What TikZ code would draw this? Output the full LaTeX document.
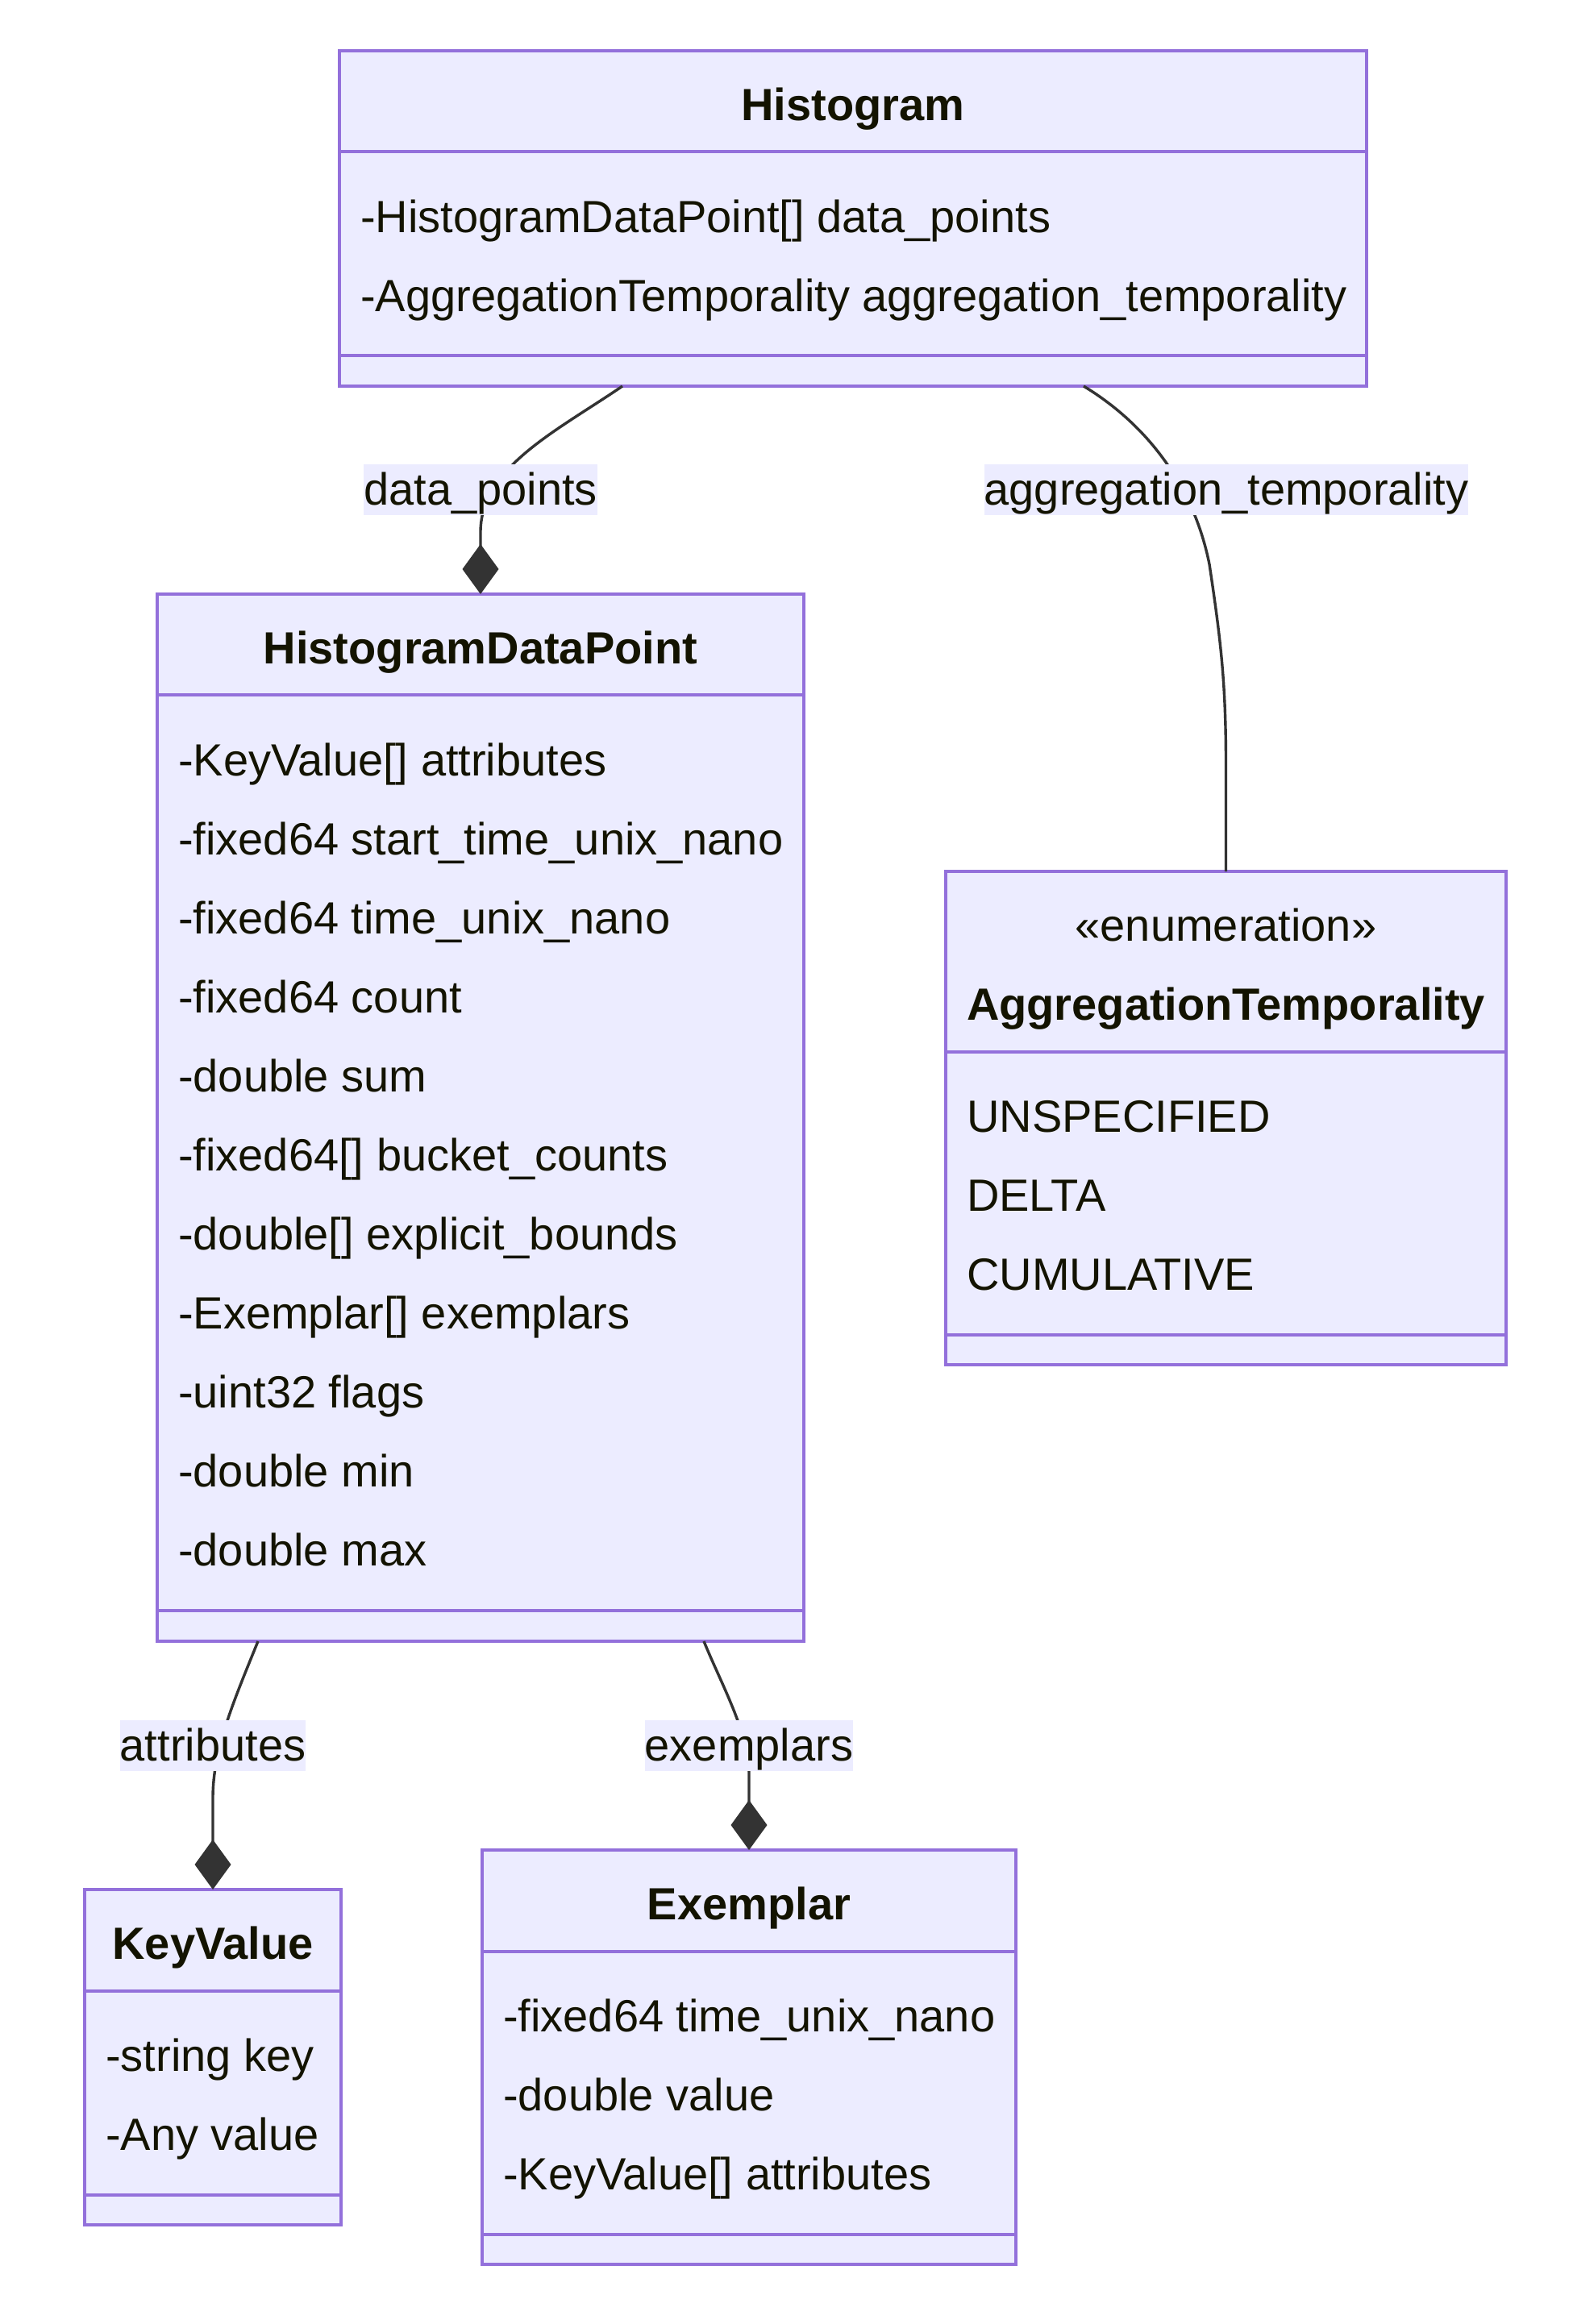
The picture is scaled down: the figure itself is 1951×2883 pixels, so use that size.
\documentclass[tikz,border=0pt]{standalone}
\usepackage{fontspec}
\setmainfont{Liberation Sans}
\usetikzlibrary{arrows.meta,calc}
\definecolor{boxfill}{HTML}{ECECFF}
\definecolor{boxline}{HTML}{9370DB}
\definecolor{txt}{HTML}{131300}
\definecolor{edgec}{HTML}{333333}
\definecolor{lblbg}{HTML}{ECECFF}
\newcommand{\dfont}{\fontsize{56pt}{66pt}\selectfont}
\begin{document}
\begin{tikzpicture}[x=1pt,y=-1pt,
  classbox/.style={draw=boxline, fill=boxfill, line width=3.4pt, inner sep=0pt, outer sep=0pt, anchor=north west},
  divider/.style={draw=boxline, line width=3.4pt},
  attr/.style={anchor=base west, inner sep=0pt, text=txt, font=\dfont},
  ctitle/.style={anchor=base, inner sep=0pt, text=txt, font=\dfont\bfseries},
  stereo/.style={anchor=base, inner sep=0pt, text=txt, font=\dfont},
  conn/.style={draw=edgec, line width=3.4pt},
  comp/.style={conn, -{Diamond[length=62pt,width=45pt,fill=edgec]}},
  elabel/.style={fill=lblbg, inner sep=0pt, text=txt, font=\dfont, text height=50.6pt, text depth=11.9pt}
]
\useasboundingbox (0,0) rectangle (1951,2883);
\fill[white] (0,0) rectangle (1951,2883);

% Histogram
\node[classbox, minimum width=1274pt, minimum height=416pt] (hist) at (421,63) {};
\draw[divider] (hist.west |- 0,188) -- (hist.east |- 0,188);
\draw[divider] (hist.west |- 0,441) -- (hist.east |- 0,441);
\node[ctitle] (histT) at (1058,149.5) {Histogram};
\node[attr] (histA1) at (447,288.5) {-HistogramDataPoint[] data\_points};
\node[attr] (histA2) at (447,386.5) {-AggregationTemporality aggregation\_temporality};

% HistogramDataPoint
\node[classbox, minimum width=802pt, minimum height=1299pt] (hdp) at (195,737) {};
\draw[divider] (hdp.west |- 0,862) -- (hdp.east |- 0,862);
\draw[divider] (hdp.west |- 0,1998) -- (hdp.east |- 0,1998);
\node[ctitle] (hdpT) at (596,823.5) {HistogramDataPoint};
\node[attr] (hdpA1) at (221,962.5) {-KeyValue[] attributes};
\node[attr] (hdpA2) at (221,1060.5) {-fixed64 start\_time\_unix\_nano};
\node[attr] (hdpA3) at (221,1158.5) {-fixed64 time\_unix\_nano};
\node[attr] (hdpA4) at (221,1256.5) {-fixed64 count};
\node[attr] (hdpA5) at (221,1354.5) {-double sum};
\node[attr] (hdpA6) at (221,1452.5) {-fixed64[] bucket\_counts};
\node[attr] (hdpA7) at (221,1550.5) {-double[] explicit\_bounds};
\node[attr] (hdpA8) at (221,1648.5) {-Exemplar[] exemplars};
\node[attr] (hdpA9) at (221,1746.5) {-uint32 flags};
\node[attr] (hdpA10) at (221,1844.5) {-double min};
\node[attr] (hdpA11) at (221,1942.5) {-double max};

% AggregationTemporality
\node[classbox, minimum width=695pt, minimum height=612pt] (agg) at (1173,1081) {};
\draw[divider] (agg.west |- 0,1305) -- (agg.east |- 0,1305);
\draw[divider] (agg.west |- 0,1656) -- (agg.east |- 0,1656);
\node[stereo] (aggS) at (1520.5,1167.5) {«enumeration»};
\node[ctitle] (aggT) at (1520.5,1265.5) {AggregationTemporality};
\node[attr] (aggA1) at (1199,1404.5) {UNSPECIFIED};
\node[attr] (aggA2) at (1199,1502.5) {DELTA};
\node[attr] (aggA3) at (1199,1600.5) {CUMULATIVE};

% KeyValue
\node[classbox, minimum width=318pt, minimum height=416pt] (kv) at (105,2344) {};
\draw[divider] (kv.west |- 0,2470) -- (kv.east |- 0,2470);
\draw[divider] (kv.west |- 0,2723) -- (kv.east |- 0,2723);
\node[ctitle] (kvT) at (264,2430.5) {KeyValue};
\node[attr] (kvA1) at (131,2569.5) {-string key};
\node[attr] (kvA2) at (131,2667.5) {-Any value};

% Exemplar
\node[classbox, minimum width=662pt, minimum height=514pt] (ex) at (598,2295) {};
\draw[divider] (ex.west |- 0,2421) -- (ex.east |- 0,2421);
\draw[divider] (ex.west |- 0,2772) -- (ex.east |- 0,2772);
\node[ctitle] (exT) at (929,2381.5) {Exemplar};
\node[attr] (exA1) at (624,2520.5) {-fixed64 time\_unix\_nano};
\node[attr] (exA2) at (624,2618.5) {-double value};
\node[attr] (exA3) at (624,2716.5) {-KeyValue[] attributes};

% connectors
\draw[comp] (hist.south -| 772,0) .. controls (690,535) and (596,580) .. (596,660) -- (hdp.north);
\draw[conn] (hist.south -| 1344,0) .. controls (1420,525) and (1480,600) .. (1500,700)
   .. controls (1515,800) and (1520.5,850) .. (1520.5,950) -- (agg.north);
\draw[comp] (hdp.south -| 320,0) .. controls (290,2110) and (264,2170) .. (264,2230) -- (kv.north);
\draw[comp] (hdp.south -| 873,0) .. controls (895,2090) and (929,2150) .. (929,2200) -- (ex.north);

% labels
\node[elabel] (l1) at (596,607.5) {data\_points};
\node[elabel] (l2) at (1521,607.5) {aggregation\_temporality};
\node[elabel] (l3) at (264,2165.5) {attributes};
\node[elabel] (l4) at (929,2165.5) {exemplars};
\end{tikzpicture}
\end{document}
